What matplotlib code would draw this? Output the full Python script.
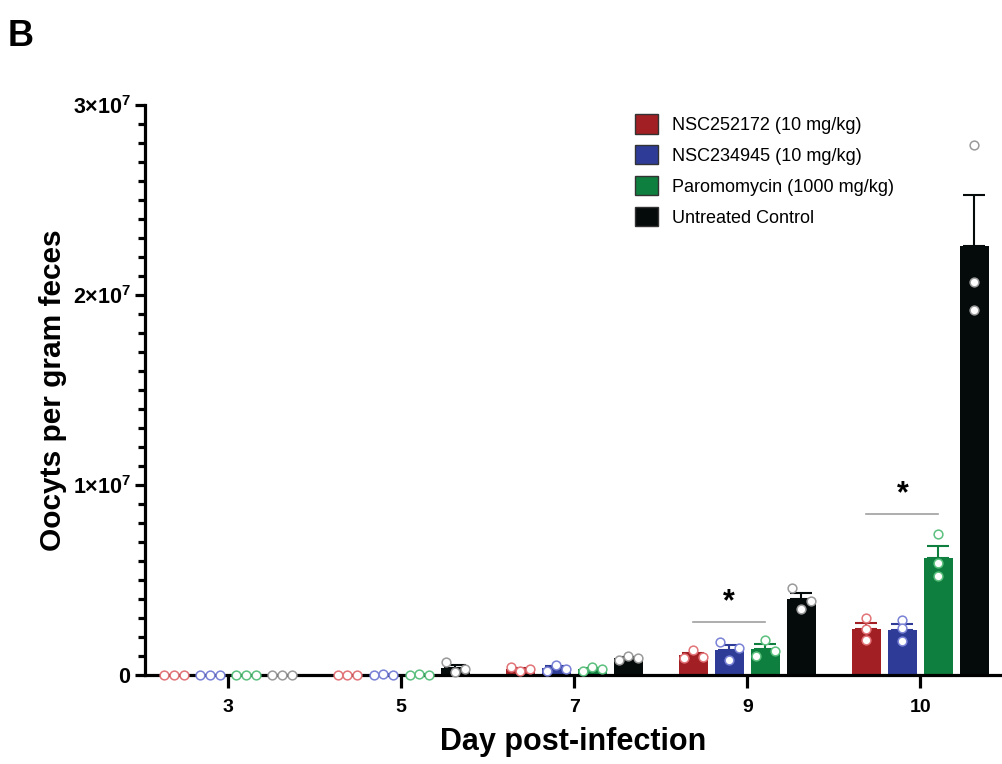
import numpy as np
import matplotlib
matplotlib.use("Agg")
import matplotlib.pyplot as plt
from matplotlib.ticker import MultipleLocator, FuncFormatter
from matplotlib.patches import Patch

plt.rcParams["font.family"] = ["Liberation Sans", "DejaVu Sans"]
plt.rcParams["mathtext.fontset"] = "custom"
plt.rcParams["mathtext.rm"] = "Liberation Sans:bold"
plt.rcParams["mathtext.bf"] = "Liberation Sans:bold"

# Data (oocysts per gram feces, individual animals, x1e6)
days = ["3", "5", "7", "9", "10"]
groups = ["NSC252172 (10 mg/kg)", "NSC234945 (10 mg/kg)",
          "Paromomycin (1000 mg/kg)", "Untreated Control"]

nsc252172 = [[0, 0, 0], [0, 0, 0], [0.4, 0.2, 0.3], [0.9, 1.3, 0.95], [3.0, 2.4, 1.85]]
nsc234945 = [[0, 0, 0], [0, 0.05, 0], [0.2, 0.55, 0.3], [1.75, 0.8, 1.4], [2.9, 2.45, 1.8]]
paromomycin = [[0, 0, 0], [0, 0.05, 0], [0.2, 0.4, 0.3], [1.0, 1.85, 1.25], [7.4, 5.9, 5.2]]
untreated = [[0, 0, 0], [0.7, 0.15, 0.3], [0.8, 1.0, 0.9], [4.6, 3.5, 3.9], [27.9, 20.7, 19.2]]

series = [nsc252172, nsc234945, paromomycin, untreated]
bar_colors = ["#A21F24", "#2E3C98", "#0E7F3F", "#050A0A"]
dot_edges = ["#E27478", "#7A82D6", "#5CC07E", "#9A9A9A"]

# significance: (day index, left group, right group, height x1e6)
sig_marks = [(3, 0, 2, 2.8), (4, 0, 2, 8.5)]

scale = 1e6
fig = plt.figure(figsize=(10.02, 7.64), dpi=100)
ax = fig.add_axes([0.1447, 0.1165, 0.855, 0.746])

pitch = 0.208
width = 0.168
x = np.arange(len(days))

for gi, (data, col, ecol) in enumerate(zip(series, bar_colors, dot_edges)):
    vals = np.array(data) * scale
    means = vals.mean(axis=1)
    sems = vals.std(axis=1, ddof=1) / np.sqrt(vals.shape[1])
    xpos = x + (gi - 1.5) * pitch
    ax.bar(xpos, means, width=width, color=col, zorder=2)
    ax.errorbar(xpos, means, yerr=[np.zeros_like(sems), sems], fmt="none",
                ecolor=col, elinewidth=1.5, capsize=8, capthick=1.5, zorder=3)
    for di in range(len(days)):
        pts = vals[di]
        gaps = np.diff(np.sort(pts))
        if np.any(gaps < 0.42 * scale):
            offs = np.array([-1, 0, 1]) * width * 0.33
        else:
            offs = np.zeros(3)
        ax.plot(xpos[di] + offs, pts, "o", ms=6.3, mfc="white", mec=ecol,
                mew=1.1, zorder=5, clip_on=False)

for di, g1, g2, h in sig_marks:
    x1 = x[di] + (g1 - 1.5) * pitch
    x2 = x[di] + (g2 - 1.5) * pitch
    ax.plot([x1, x2], [h * scale, h * scale], color="#A0A0A0", lw=1.2)
    ax.text((x1 + x2) / 2, h * scale + 0.25 * scale, "*", ha="center",
            va="bottom", fontsize=22, fontweight="bold")

ax.set_xlim(-0.48, 4.47)
ax.set_ylim(0, 3e7)
ax.set_xticks(x)
ax.set_xticklabels(days, fontsize=14, fontweight="bold")
ax.yaxis.set_major_locator(MultipleLocator(1e7))
ax.yaxis.set_minor_locator(MultipleLocator(1e6))


def fmt(v, pos):
    if v == 0:
        return r"$\mathbf{0}$"
    return r"$\mathbf{%d{\times}10^7}$" % round(v / 1e7)


ax.yaxis.set_major_formatter(FuncFormatter(fmt))
for lab in ax.get_yticklabels():
    lab.set_fontsize(15.5)

for s in ["top", "right"]:
    ax.spines[s].set_visible(False)
for s in ["left", "bottom"]:
    ax.spines[s].set_linewidth(2.3)
    ax.spines[s].set_zorder(4)
ax.tick_params(axis="y", which="major", length=7, width=2.3, pad=3)
ax.tick_params(axis="y", which="minor", length=5, width=2.3)
ax.tick_params(axis="x", which="major", length=9, width=2.3, pad=8)

ax.set_ylabel("Oocyts per gram feces", fontsize=21.5, fontweight="bold", labelpad=4)
ax.set_xlabel("Day post-infection", fontsize=22, fontweight="bold", labelpad=8)

handles = [Patch(facecolor=c, edgecolor="#333333", lw=1.0, label=l)
           for c, l in zip(bar_colors, groups)]
ax.legend(handles=handles, loc="upper left", bbox_to_anchor=(0.553, 1.012),
          frameon=False, fontsize=13, handlelength=1.25, handleheight=1.25,
          handletextpad=0.8, labelspacing=0.62)

fig.text(0.008, 0.975, "B", fontsize=26, fontweight="bold", va="top", ha="left")

fig.savefig("out.png", dpi=100)
